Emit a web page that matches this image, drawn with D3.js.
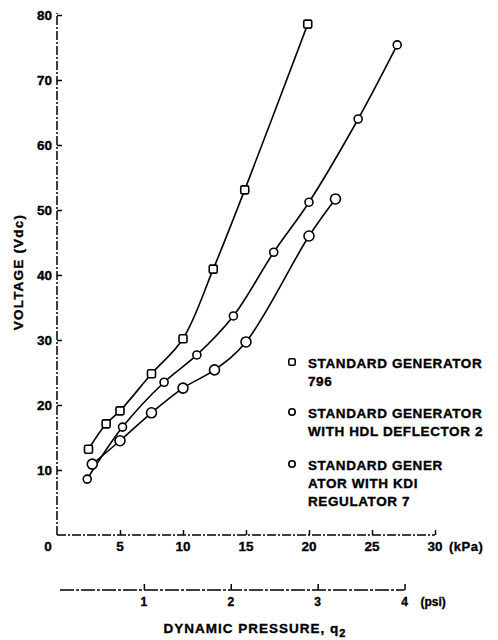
<!DOCTYPE html>
<html>
<head>
<meta charset="utf-8">
<script src="https://cdn.jsdelivr.net/npm/d3@7"></script>
<style>
  html, body { margin: 0; padding: 0; background: #fff; }
  svg { display: block; }
  text { font-family: "Liberation Sans", Arial, sans-serif; font-weight: bold; fill: #000; stroke: #000; stroke-width: 0.35px; }
</style>
</head>
<body>
<script>
// Generator output voltage against dynamic pressure
const kpaTicks = [5, 10, 15, 20, 25, 30];
const psiTicks = [1, 2, 3, 4];
const voltTicks = [10, 20, 30, 40, 50, 60, 70, 80];

// Standard generator 796 (square markers)
const std796Kpa = [2.5, 3.9, 5.0, 7.5, 10.0, 12.4, 14.9, 19.9];
const std796Volt = [13.2, 17.1, 19.1, 24.8, 30.2, 40.9, 53.1, 78.6];

// Standard generator with HDL deflector 2
const hdlKpa = [2.4, 5.2, 8.5, 11.1, 14.0, 17.2, 20.0, 23.9, 27.0];
const hdlVolt = [8.6, 16.6, 23.5, 27.7, 33.7, 43.5, 51.2, 64.0, 75.4];

// Standard generator with KDI regulator 7
const kdiKpa = [2.8, 5.0, 7.5, 10.0, 12.5, 15.0, 20.0, 22.1];
const kdiVolt = [10.9, 14.5, 18.8, 22.6, 25.4, 29.7, 46.0, 51.7];

const legendLines = [
  ["STANDARD GENERATOR", "796"],
  ["STANDARD GENERATOR", "WITH HDL DEFLECTOR 2"],
  ["STANDARD GENER", "ATOR WITH KDI", "REGULATOR 7"]
];

const KPA_PER_PSI = 6.895;

const W = 498, H = 640;
const svg = d3.select("body").append("svg").attr("width", W).attr("height", H);

const x = d3.scaleLinear().domain([0, 30]).range([57, 435]);
const y = d3.scaleLinear().domain([0, 80]).range([535, 15]);
const xPsi = d3.scaleLinear().domain([0, 4]).range([x(0), x(4 * KPA_PER_PSI)]);

const axisDash = "9,2,2,2";

// Vertical voltage axis
svg.append("line")
  .attr("x1", x(0)).attr("x2", x(0))
  .attr("y1", y(0)).attr("y2", y(80) - 2)
  .attr("stroke", "#000").attr("stroke-width", 1.5)
  .attr("stroke-dasharray", axisDash);

const yAxis = d3.axisRight(y).tickValues(voltTicks).tickSize(5).tickFormat("");
const gy = svg.append("g").attr("transform", `translate(${x(0)},0)`).call(yAxis);
gy.select(".domain").remove();
gy.selectAll(".tick line").attr("stroke", "#000").attr("stroke-width", 1.5);

svg.append("g").selectAll("text").data(voltTicks).join("text")
  .attr("x", x(0) - 5).attr("y", d => y(d) + 5)
  .attr("text-anchor", "end").attr("font-size", 13.5)
  .text(d => d);

// Horizontal kPa axis
svg.append("line")
  .attr("x1", x(0)).attr("x2", x(30))
  .attr("y1", y(0)).attr("y2", y(0))
  .attr("stroke", "#000").attr("stroke-width", 1.5)
  .attr("stroke-dasharray", axisDash);

const xAxis = d3.axisTop(x).tickValues(kpaTicks).tickSize(5).tickFormat("");
const gx = svg.append("g").attr("transform", `translate(0,${y(0)})`).call(xAxis);
gx.select(".domain").remove();
gx.selectAll(".tick line").attr("stroke", "#000").attr("stroke-width", 1.5);

svg.append("g").selectAll("text").data(kpaTicks).join("text")
  .attr("x", d => x(d)).attr("y", y(0) + 16)
  .attr("text-anchor", "middle").attr("font-size", 13.5)
  .text(d => d);
svg.append("text").attr("x", x(0) - 9).attr("y", y(0) + 16)
  .attr("text-anchor", "middle").attr("font-size", 13.5).text("0");
svg.append("text").attr("x", x(30) + 14).attr("y", y(0) + 16)
  .attr("font-size", 13).attr("letter-spacing", 0.5).text("(kPa)");

// Secondary psi axis
const psiY = 590;
svg.append("line")
  .attr("x1", xPsi(0) + 3).attr("x2", xPsi(4))
  .attr("y1", psiY).attr("y2", psiY)
  .attr("stroke", "#000").attr("stroke-width", 1.5)
  .attr("stroke-dasharray", "14,2,3,2");

const psiAxis = d3.axisTop(xPsi).tickValues(psiTicks).tickSize(6).tickFormat("");
const gp = svg.append("g").attr("transform", `translate(0,${psiY})`).call(psiAxis);
gp.select(".domain").remove();
gp.selectAll(".tick line").attr("stroke", "#000").attr("stroke-width", 1.5);

svg.append("g").selectAll("text").data(psiTicks).join("text")
  .attr("x", d => xPsi(d)).attr("y", psiY + 16)
  .attr("text-anchor", "middle").attr("font-size", 12)
  .text(d => d);
svg.append("text").attr("x", xPsi(4) + 16).attr("y", psiY + 16)
  .attr("font-size", 12).text("(psi)");

// Axis titles
svg.append("text")
  .attr("transform", `translate(23,${272}) rotate(-90)`)
  .attr("text-anchor", "middle").attr("font-size", 13.5)
  .attr("letter-spacing", 1.2)
  .text("VOLTAGE (Vdc)");

const xt = svg.append("text")
  .attr("x", 255).attr("y", 633)
  .attr("text-anchor", "middle").attr("font-size", 13.5)
  .attr("letter-spacing", 1);
xt.append("tspan").text("DYNAMIC PRESSURE, q");
xt.append("tspan").attr("dy", 4).attr("font-size", 11).text("2");

// Curves and markers
const line = d3.line()
  .x(d => x(d[0])).y(d => y(d[1]))
  .curve(d3.curveCatmullRom.alpha(0.5));

const series = [
  { kpa: std796Kpa, volt: std796Volt, shape: "square", r: 4 },
  { kpa: hdlKpa, volt: hdlVolt, shape: "circle", r: 4 },
  { kpa: kdiKpa, volt: kdiVolt, shape: "circle", r: 5 }
];

series.forEach(s => {
  const pts = s.kpa.map((k, i) => [k, s.volt[i]]);
  svg.append("path").datum(pts)
    .attr("d", line)
    .attr("fill", "none").attr("stroke", "#000").attr("stroke-width", 1.6);
});

function drawMarker(g, shape, cx, cy, r) {
  if (shape === "square") {
    g.append("rect")
      .attr("x", cx - r).attr("y", cy - r)
      .attr("width", 2 * r).attr("height", 2 * r)
      .attr("rx", 1.5)
      .attr("fill", "#fff").attr("stroke", "#000").attr("stroke-width", 1.6);
  } else {
    g.append("circle")
      .attr("cx", cx).attr("cy", cy).attr("r", r)
      .attr("fill", "#fff").attr("stroke", "#000").attr("stroke-width", 1.6);
  }
}

const markers = svg.append("g");
series.forEach(s => {
  s.kpa.forEach((k, i) => drawMarker(markers, s.shape, x(k), y(s.volt[i]), s.r));
});

// Legend
const legendTop = [363, 413, 465];
legendLines.forEach((lines, i) => {
  const g = svg.append("g");
  drawMarker(g, series[i].shape, 292, legendTop[i] - 1, 3.2);
  lines.forEach((t, j) => {
    g.append("text")
      .attr("x", 308).attr("y", legendTop[i] + 5 + j * 18)
      .attr("font-size", 13.5).attr("letter-spacing", 0.6)
      .text(t);
  });
});
</script>
</body>
</html>
